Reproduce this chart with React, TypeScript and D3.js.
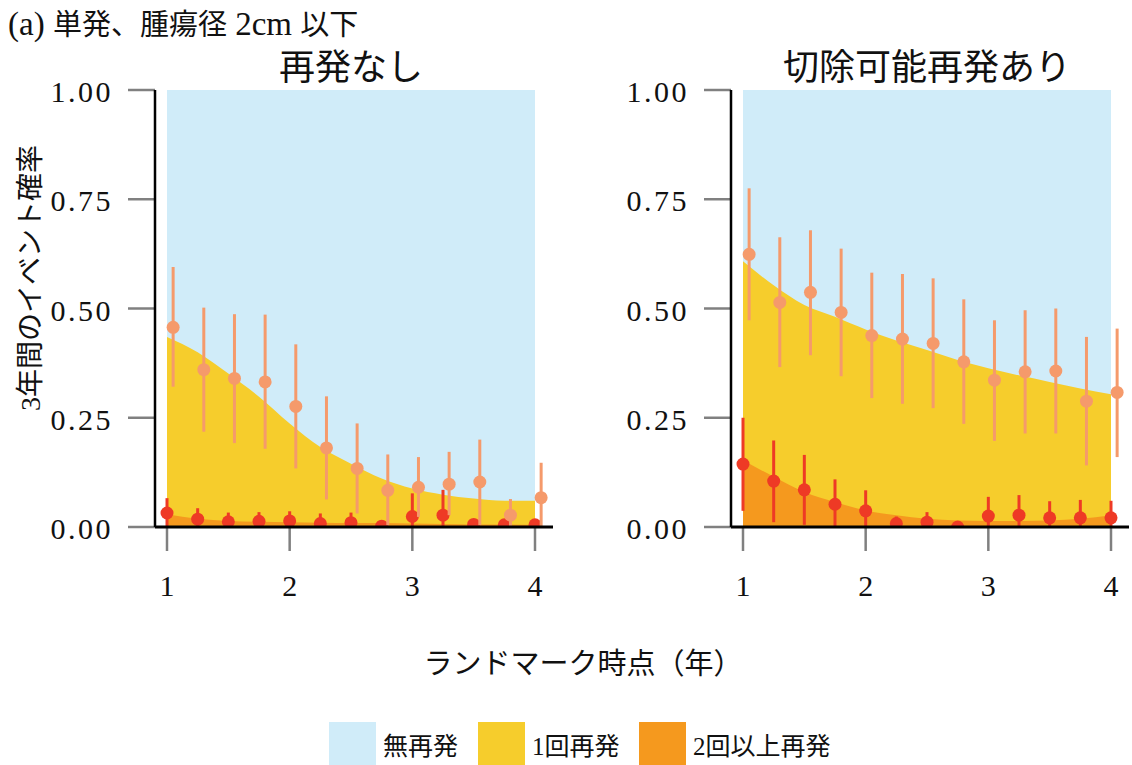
import React from "react";
import * as d3 from "d3";

// Landmark times (years)
const landmarks = [1, 1.25, 1.5, 1.75, 2, 2.25, 2.5, 2.75, 3, 3.25, 3.5, 3.75, 4];
const xTicks = [1, 2, 3, 4];
const yTicks = [0, 0.25, 0.5, 0.75, 1];

// Panel: 再発なし
const noRecFitAny = [0.435, 0.4, 0.351, 0.298, 0.237, 0.183, 0.145, 0.111, 0.088, 0.074, 0.065, 0.06, 0.06];
const noRecFitTwo = [0.029, 0.019, 0.014, 0.012, 0.011, 0.01, 0.009, 0.009, 0.008, 0.007, 0.006, 0.006, 0.005];
const noRecOne = [0.457, 0.36, 0.34, 0.332, 0.276, 0.181, 0.134, 0.084, 0.091, 0.098, 0.103, 0.027, 0.067];
const noRecOneLo = [0.321, 0.218, 0.192, 0.179, 0.134, 0.063, 0.031, 0.004, 0.023, 0.027, 0.004, 0.002, 0.002];
const noRecOneHi = [0.595, 0.502, 0.487, 0.486, 0.418, 0.299, 0.237, 0.166, 0.16, 0.172, 0.2, 0.064, 0.147];
const noRecTwo = [0.032, 0.018, 0.012, 0.013, 0.014, 0.008, 0.01, 0.002, 0.024, 0.027, 0.006, 0.005, 0.005];
const noRecTwoLo = [0, 0, 0, 0, 0, 0, 0, 0, 0, 0, 0, 0, 0];
const noRecTwoHi = [0.066, 0.043, 0.033, 0.034, 0.036, 0.031, 0.033, 0.002, 0.077, 0.085, 0.017, 0.014, 0.005];

// Panel: 切除可能再発あり
const resRecFitAny = [0.608, 0.553, 0.508, 0.481, 0.452, 0.427, 0.405, 0.382, 0.363, 0.347, 0.332, 0.317, 0.304];
const resRecFitTwo = [0.153, 0.115, 0.08, 0.057, 0.038, 0.027, 0.019, 0.015, 0.014, 0.014, 0.015, 0.019, 0.027];
const resRecOne = [0.624, 0.514, 0.537, 0.491, 0.438, 0.43, 0.42, 0.378, 0.336, 0.355, 0.357, 0.288, 0.308];
const resRecOneLo = [0.473, 0.366, 0.393, 0.345, 0.295, 0.282, 0.272, 0.236, 0.197, 0.214, 0.214, 0.141, 0.16];
const resRecOneHi = [0.775, 0.663, 0.679, 0.637, 0.582, 0.579, 0.569, 0.521, 0.473, 0.496, 0.5, 0.435, 0.454];
const resRecTwo = [0.144, 0.105, 0.085, 0.052, 0.037, 0.008, 0.011, 0.0, 0.025, 0.027, 0.021, 0.021, 0.021];
const resRecTwoLo = [0.037, 0.011, 0.005, 0, 0, 0, 0, 0, 0, 0, 0, 0, 0];
const resRecTwoHi = [0.25, 0.198, 0.165, 0.109, 0.084, 0.024, 0.034, 0.0, 0.069, 0.073, 0.059, 0.062, 0.06];

const legendLabels = ["無再発", "1回再発", "2回以上再発"];

const COL_NONE = "#D0ECF9";
const COL_ONE = "#F6CD2C";
const COL_TWO = "#F5991E";
const COL_ONE_PT = "#F59A6B";
const COL_TWO_PT = "#EE3A25";
const FONT = "'Liberation Serif', 'Noto Sans CJK JP', serif";

type PanelProps = {
  id: string;
  title: string;
  left: number;
  fitAny: number[];
  fitTwo: number[];
  one: number[];
  oneLo: number[];
  oneHi: number[];
  two: number[];
  twoLo: number[];
  twoHi: number[];
};

const PLOT_W = 368;
const TOP = 90;
const BOTTOM = 527;

function Panel(p: PanelProps) {
  const x = d3.scaleLinear().domain([1, 4]).range([p.left, p.left + PLOT_W]);
  const y = d3.scaleLinear().domain([0, 1]).range([BOTTOM, TOP]);
  const axisX = p.left - 12;
  const dodge = 0.05;

  const areaAny = d3
    .area<number>()
    .x((_, i) => x(landmarks[i]))
    .y0(y(0))
    .y1((d) => y(d))
    .curve(d3.curveMonotoneX);

  const clipId = `clip-${p.id}`;

  return (
    <g>
      <defs>
        <clipPath id={clipId}>
          <rect x={axisX} y={TOP - 20} width={PLOT_W + 40} height={BOTTOM - TOP + 20} />
        </clipPath>
      </defs>
      <text x={x(2.5)} y={80} textAnchor="middle" fontSize={36} fontFamily={FONT} fill="#111">
        {p.title}
      </text>
      <rect x={x(1)} y={y(1)} width={x(4) - x(1)} height={y(0) - y(1)} fill={COL_NONE} />
      <path d={areaAny(p.fitAny) ?? ""} fill={COL_ONE} />
      <path d={areaAny(p.fitTwo) ?? ""} fill={COL_TWO} />
      <g clipPath={`url(#${clipId})`}>
        {landmarks.map((t, i) => (
          <g key={`two-${i}`}>
            <line x1={x(t)} x2={x(t)} y1={y(p.twoLo[i])} y2={y(p.twoHi[i])} stroke={COL_TWO_PT} strokeWidth={3} />
            <circle cx={x(t)} cy={y(p.two[i])} r={6.5} fill={COL_TWO_PT} />
          </g>
        ))}
        {landmarks.map((t, i) => (
          <g key={`one-${i}`}>
            <line
              x1={x(t + dodge)}
              x2={x(t + dodge)}
              y1={y(p.oneLo[i])}
              y2={y(p.oneHi[i])}
              stroke={COL_ONE_PT}
              strokeWidth={3}
            />
            <circle cx={x(t + dodge)} cy={y(p.one[i])} r={6.5} fill={COL_ONE_PT} />
          </g>
        ))}
      </g>
      {/* y axis */}
      {yTicks.map((v) => (
        <g key={`yt-${v}`}>
          <line x1={axisX - 27} x2={axisX} y1={y(v)} y2={y(v)} stroke="#808080" strokeWidth={2.5} />
          <text
            x={axisX - 42}
            y={y(v) + 12}
            textAnchor="end"
            fontSize={30}
            letterSpacing={2.5}
            fontFamily={FONT}
            fill="#111"
          >
            {d3.format(".2f")(v)}
          </text>
        </g>
      ))}
      <line x1={axisX} x2={axisX} y1={TOP} y2={BOTTOM} stroke="#000" strokeWidth={2.5} />
      {/* x axis */}
      {xTicks.map((v) => (
        <g key={`xt-${v}`}>
          <line x1={x(v)} x2={x(v)} y1={BOTTOM} y2={BOTTOM + 24} stroke="#808080" strokeWidth={2.5} />
          <text x={x(v)} y={596} textAnchor="middle" fontSize={30} fontFamily={FONT} fill="#111">
            {v}
          </text>
        </g>
      ))}
      <line x1={axisX} x2={p.left + PLOT_W + 18} y1={BOTTOM} y2={BOTTOM} stroke="#000" strokeWidth={3} />
    </g>
  );
}

export default function App() {
  const legendColors = [COL_NONE, COL_ONE, COL_TWO];
  const legendX = [329, 478, 639];
  return (
    <svg
      width={1132}
      height={765}
      viewBox="0 0 1132 765"
      style={{ position: "absolute", left: 0, top: 0, display: "block", background: "#fff" }}
    >
      <text x={8} y={35} fontSize={29} fontFamily={FONT} fill="#111">
        <tspan fontSize={33}>(a) </tspan>
        <tspan>単発、腫瘍径</tspan>
        <tspan fontSize={33}> 2cm </tspan>
        <tspan>以下</tspan>
      </text>
      <Panel
        id="a"
        title="再発なし"
        left={167}
        fitAny={noRecFitAny}
        fitTwo={noRecFitTwo}
        one={noRecOne}
        oneLo={noRecOneLo}
        oneHi={noRecOneHi}
        two={noRecTwo}
        twoLo={noRecTwoLo}
        twoHi={noRecTwoHi}
      />
      <Panel
        id="b"
        title="切除可能再発あり"
        left={743}
        fitAny={resRecFitAny}
        fitTwo={resRecFitTwo}
        one={resRecOne}
        oneLo={resRecOneLo}
        oneHi={resRecOneHi}
        two={resRecTwo}
        twoLo={resRecTwoLo}
        twoHi={resRecTwoHi}
      />
      <text
        transform="translate(40,278) rotate(-90)"
        textAnchor="middle"
        fontSize={28}
        fontFamily={FONT}
        fill="#111"
      >
        3年間のイベント確率
      </text>
      <text x={583} y={674} textAnchor="middle" fontSize={29} fontFamily={FONT} fill="#111">
        ランドマーク時点（年）
      </text>
      {legendLabels.map((label, i) => (
        <g key={label}>
          <rect x={legendX[i]} y={722} width={47} height={45} fill={legendColors[i]} />
          <text x={legendX[i] + 54} y={755} fontSize={25} fontFamily={FONT} fill="#111">
            {label}
          </text>
        </g>
      ))}
    </svg>
  );
}
